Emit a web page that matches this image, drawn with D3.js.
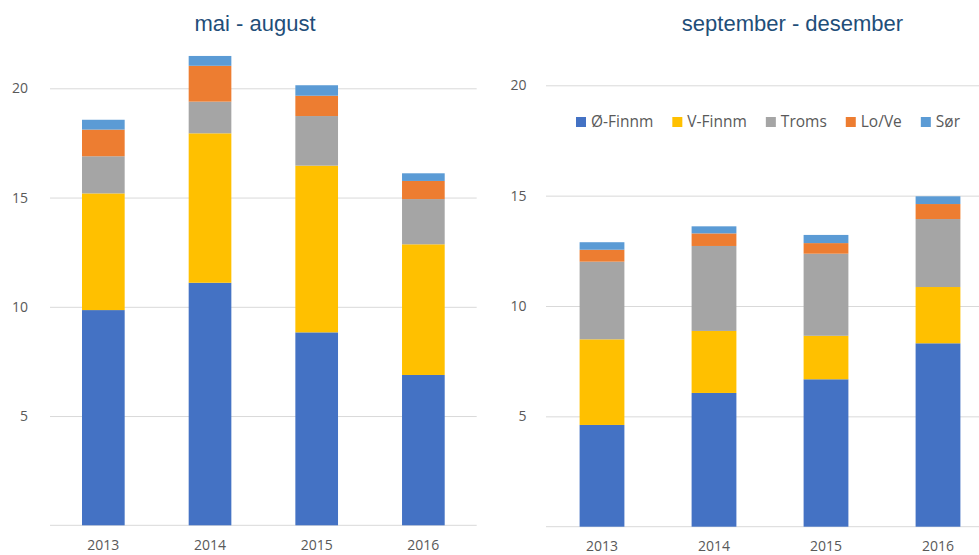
<!DOCTYPE html>
<html lang="no">
<head>
<meta charset="UTF-8">
<title>mai - august / september - desember</title>
<script src="https://unpkg.com/d3@7.8.5/dist/d3.min.js"></script>
<style>
  * { margin: 0; padding: 0; box-sizing: border-box; }
  body { background: #fff; width: 979px; height: 555px; overflow: hidden; }
  svg { display: block; }
  .tick text { font-family: "Open Sans", sans-serif; font-size: 14px; fill: #595959; }
  .title { font-family: "Liberation Sans", Arial, sans-serif; font-size: 22px; fill: #1f4e79; }
  .legend text { font-family: "Open Sans", sans-serif; font-size: 15.5px; fill: #595959; }
</style>
</head>
<body>
<svg width="979" height="555"></svg>
<script>
  // kategorier
  const years = ['2013', '2014', '2015', '2016']
  const regions = ['Ø-Finnm', 'V-Finnm', 'Troms', 'Lo/Ve', 'Sør']
  const colors = ['#4472c4', '#ffc000', '#a5a5a5', '#ed7d31', '#5b9bd5']
  const yTicks = [5, 10, 15, 20]

  // mai - august
  const maiOFinnm = [9.85, 11.10, 8.83, 6.88]
  const maiVFinnm = [5.34, 6.84, 7.63, 5.98]
  const maiTroms = [1.70, 1.45, 2.27, 2.07]
  const maiLoVe = [1.22, 1.64, 0.93, 0.83]
  const maiSor = [0.45, 0.45, 0.48, 0.35]

  // september - desember
  const sepOFinnm = [4.61, 6.06, 6.68, 8.31]
  const sepVFinnm = [3.88, 2.81, 1.97, 2.55]
  const sepTroms = [3.52, 3.85, 3.72, 3.08]
  const sepLoVe = [0.54, 0.57, 0.48, 0.68]
  const sepSor = [0.34, 0.32, 0.37, 0.35]

  function toRows(cols) {
    return years.map((yr, i) => {
      const row = { year: yr }
      regions.forEach((r, j) => { row[r] = cols[j][i] })
      return row
    })
  }

  const svg = d3.select('svg')

  // tegn ett panel
  function drawPanel({ rows, title, left, right, gridRight, y0, y20, titleX, labelPad, yearPad }) {
    const x = d3.scaleBand().domain(years).range([left, right]).paddingInner(0.6).paddingOuter(0.3)
    const y = d3.scaleLinear().domain([0, 20]).range([y0, y20])
    const g = svg.append('g')

    // gridlinjer
    const yAxis = g.append('g')
      .attr('transform', `translate(${left},0)`)
      .call(d3.axisLeft(y).tickValues(yTicks).tickSize(-(gridRight - left)).tickPadding(labelPad))
    yAxis.select('.domain').remove()
    yAxis.selectAll('.tick line').attr('stroke', '#d9d9d9')

    // grunnlinje
    g.append('line')
      .attr('x1', left).attr('x2', gridRight)
      .attr('y1', y(0)).attr('y2', y(0))
      .attr('stroke', '#d9d9d9')

    const stacked = d3.stack().keys(regions)(rows)
    g.selectAll('.serie')
      .data(stacked)
      .join('g')
      .attr('fill', (d, i) => colors[i])
      .selectAll('rect')
      .data(d => d)
      .join('rect')
      .attr('x', d => x(d.data.year))
      .attr('width', x.bandwidth())
      .attr('y', d => y(d[1]))
      .attr('height', d => y(d[0]) - y(d[1]))

    const xAxis = g.append('g')
      .attr('transform', `translate(0,${y(0)})`)
      .call(d3.axisBottom(x).tickSize(0).tickPadding(yearPad))
    xAxis.select('.domain').remove()

    g.append('text')
      .attr('class', 'title')
      .attr('x', titleX)
      .attr('y', 31)
      .attr('text-anchor', 'middle')
      .text(title)
  }

  drawPanel({
    rows: toRows([maiOFinnm, maiVFinnm, maiTroms, maiLoVe, maiSor]),
    title: 'mai - august',
    left: 50, right: 476.7, gridRight: 476.7,
    y0: 525.3, y20: 88.3, titleX: 255, labelPad: 22, yearPad: 15
  })

  drawPanel({
    rows: toRows([sepOFinnm, sepVFinnm, sepTroms, sepLoVe, sepSor]),
    title: 'september - desember',
    left: 546, right: 994, gridRight: 979,
    y0: 526.7, y20: 85.3, titleX: 792.5, labelPad: 19.5, yearPad: 14.5
  })

  // forklaring
  const legend = svg.append('g').attr('class', 'legend').attr('transform', 'translate(576,122)')
  let cursor = 0
  regions.forEach((r, i) => {
    const item = legend.append('g').attr('transform', `translate(${cursor},0)`)
    item.append('rect').attr('x', 0).attr('y', -5).attr('width', 10).attr('height', 10).attr('fill', colors[i])
    const t = item.append('text').attr('x', 15).attr('dy', '0.35em').text(r)
    cursor += 15 + t.node().getComputedTextLength() + 19
  })
</script>
</body>
</html>
